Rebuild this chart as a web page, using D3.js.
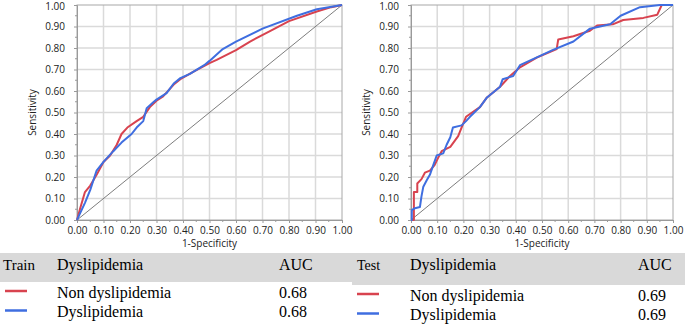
<!DOCTYPE html>
<html>
<head>
<meta charset="utf-8">
<script src="https://cdn.jsdelivr.net/npm/d3@7"></script>
<style>
  body { margin: 0; background: #fff; }
  svg { display: block; }
</style>
</head>
<body>
<div id="chart"></div>
<script>
// ROC points [1-specificity, sensitivity]
const trainNonDys = [[0,0],[0.011,0.05],[0.03,0.13],[0.05,0.16],[0.074,0.21],[0.1,0.27],[0.125,0.30],[0.15,0.35],[0.168,0.40],[0.19,0.43],[0.225,0.46],[0.25,0.48],[0.275,0.525],[0.30,0.555],[0.325,0.575],[0.365,0.63],[0.39,0.655],[0.44,0.69],[0.50,0.73],[0.527,0.745],[0.60,0.79],[0.653,0.83],[0.73,0.88],[0.80,0.925],[0.905,0.97],[0.96,0.99],[1,1]];
const trainDys = [[0,0],[0.011,0.03],[0.03,0.08],[0.05,0.14],[0.074,0.23],[0.1,0.27],[0.137,0.32],[0.168,0.36],[0.206,0.40],[0.225,0.43],[0.25,0.46],[0.263,0.52],[0.29,0.55],[0.30,0.56],[0.338,0.59],[0.365,0.635],[0.39,0.66],[0.426,0.68],[0.48,0.72],[0.50,0.74],[0.55,0.795],[0.60,0.83],[0.70,0.89],[0.83,0.95],[0.905,0.98],[1,1]];
const testNonDys = [[0,0],[0.011,0],[0.011,0.13],[0.024,0.13],[0.024,0.17],[0.04,0.19],[0.053,0.22],[0.072,0.23],[0.09,0.255],[0.104,0.29],[0.117,0.32],[0.15,0.34],[0.18,0.39],[0.193,0.43],[0.21,0.48],[0.263,0.525],[0.29,0.57],[0.34,0.62],[0.378,0.67],[0.416,0.71],[0.48,0.755],[0.556,0.795],[0.562,0.84],[0.62,0.855],[0.683,0.88],[0.71,0.905],[0.77,0.91],[0.81,0.93],[0.887,0.94],[0.94,0.955],[0.957,1],[1,1]];
const testDys = [[0,0],[0.003,0],[0.003,0.046],[0.015,0.055],[0.034,0.06],[0.04,0.11],[0.047,0.155],[0.06,0.185],[0.072,0.21],[0.085,0.255],[0.098,0.30],[0.123,0.31],[0.136,0.35],[0.15,0.385],[0.16,0.43],[0.193,0.44],[0.21,0.46],[0.225,0.48],[0.263,0.525],[0.29,0.57],[0.34,0.62],[0.35,0.655],[0.39,0.67],[0.416,0.72],[0.505,0.77],[0.54,0.79],[0.62,0.83],[0.683,0.89],[0.76,0.91],[0.80,0.95],[0.874,0.99],[0.95,1],[1,1]];

const groups = ["Non dyslipidemia", "Dyslipidemia"];
const trainAUC = ["0.68", "0.68"];
const testAUC = ["0.69", "0.69"];
const tickValues = d3.range(0, 1.0001, 0.1);
const minorValues = d3.range(0.05, 1, 0.1);

const colors = ["#d8434f", "#3f6ee0"];

const svg = d3.select("#chart").append("svg")
  .attr("width", 685).attr("height", 326);

function drawPanel(x0, x1, y0, y1, series) {
  const x = d3.scaleLinear().domain([0, 1]).range([x0, x1]);
  const y = d3.scaleLinear().domain([0, 1]).range([y0, y1]);
  const g = svg.append("g");

  // grid
  g.append("g").selectAll("line")
    .data(tickValues.slice(1, -1))
    .join("line")
      .attr("x1", d => x(d)).attr("x2", d => x(d))
      .attr("y1", y(0)).attr("y2", y(1))
      .attr("stroke", "#dadada").attr("stroke-width", 1.5);
  g.append("g").selectAll("line")
    .data(tickValues.slice(1, -1))
    .join("line")
      .attr("y1", d => y(d)).attr("y2", d => y(d))
      .attr("x1", x(0)).attr("x2", x(1))
      .attr("stroke", "#dadada").attr("stroke-width", 1.5);

  // frame
  g.append("rect")
    .attr("x", x(0)).attr("y", y(1))
    .attr("width", x(1) - x(0)).attr("height", y(0) - y(1))
    .attr("fill", "none").attr("stroke", "#a8a8a8").attr("stroke-width", 1);

  // axes
  const fmt = d3.format(".2f");
  const xAxis = g.append("g")
    .attr("transform", `translate(0,${y(0)})`)
    .call(d3.axisBottom(x).tickValues(tickValues).tickFormat(fmt).tickSize(3).tickPadding(4));
  const yAxis = g.append("g")
    .attr("transform", `translate(${x(0)},0)`)
    .call(d3.axisLeft(y).tickValues(tickValues).tickFormat(fmt).tickSize(3).tickPadding(9));
  [xAxis, yAxis].forEach(a => {
    a.select(".domain").attr("stroke", "#9a9a9a");
    a.selectAll(".tick line").attr("stroke", "#9a9a9a");
    a.selectAll("text")
      .attr("fill", "#222")
      .style("font-family", "'Open Sans', sans-serif")
      .style("font-size", "10px");
  });
  // keep the top label inside the picture
  yAxis.selectAll(".tick text").filter(d => d === 1).attr("dy", "0.45em");

  g.append("g").selectAll("line")
    .data(minorValues)
    .join("line")
      .attr("x1", d => x(d)).attr("x2", d => x(d))
      .attr("y1", y(0)).attr("y2", y(0) + 2)
      .attr("stroke", "#9a9a9a");
  g.append("g").selectAll("line")
    .data(minorValues)
    .join("line")
      .attr("y1", d => y(d)).attr("y2", d => y(d))
      .attr("x1", x(0)).attr("x2", x(0) - 2)
      .attr("stroke", "#9a9a9a");

  g.append("text")
    .attr("x", (x(0) + x(1)) / 2).attr("y", 247)
    .attr("text-anchor", "middle")
    .style("font-family", "'Open Sans', sans-serif").style("font-size", "10px")
    .attr("fill", "#222")
    .text("1-Specificity");

  g.append("text")
    .attr("transform", `translate(${x(0) - 41},${(y(0) + y(1)) / 2}) rotate(-90)`)
    .attr("text-anchor", "middle")
    .style("font-family", "'Open Sans', sans-serif").style("font-size", "10px")
    .attr("fill", "#222")
    .text("Sensitivity");

  // diagonal
  g.append("line")
    .attr("x1", x(0)).attr("y1", y(0)).attr("x2", x(1)).attr("y2", y(1))
    .attr("stroke", "#7d7d7d").attr("stroke-width", 1);

  const line = d3.line().x(d => x(d[0])).y(d => y(d[1]));
  series.forEach((s, i) => {
    g.append("path")
      .datum(s)
      .attr("fill", "none")
      .attr("stroke", colors[i])
      .attr("stroke-width", 2)
      .attr("stroke-linejoin", "round")
      .attr("d", line);
  });
}

drawPanel(77, 342, 220, 5, [trainNonDys, trainDys]);
drawPanel(411, 673, 220, 5, [testNonDys, testDys]);

// legend tables
function drawTable(opts) {
  const g = svg.append("g");
  g.append("rect")
    .attr("x", opts.bx).attr("y", opts.by)
    .attr("width", opts.bw).attr("height", opts.bh)
    .attr("fill", "#d9d9d9");
  const serif = "'Liberation Serif', 'Times New Roman', serif";
  g.append("text").attr("x", opts.c0).attr("y", opts.hy)
    .style("font-family", serif).style("font-size", opts.titleSize + "px")
    .text(opts.title);
  g.append("text").attr("x", opts.c1).attr("y", opts.hy)
    .style("font-family", serif).style("font-size", "16px")
    .text("Dyslipidemia");
  g.append("text").attr("x", opts.c2).attr("y", opts.hy)
    .style("font-family", serif).style("font-size", "16px")
    .text("AUC");
  groups.forEach((name, i) => {
    const ry = opts.rows[i];
    g.append("line")
      .attr("x1", opts.lx).attr("x2", opts.lx + 22)
      .attr("y1", ry - 6.5).attr("y2", ry - 6.5)
      .attr("stroke", colors[i]).attr("stroke-width", 2.5);
    g.append("text").attr("x", opts.c1).attr("y", ry)
      .style("font-family", serif).style("font-size", "16px")
      .text(name);
    g.append("text").attr("x", opts.c2).attr("y", ry)
      .style("font-family", serif).style("font-size", "16px")
      .text(opts.auc[i]);
  });
}

drawTable({bx: 0, by: 253, bw: 352, bh: 29, title: "Train", titleSize: 15,
  c0: 3, c1: 57, c2: 279, hy: 270, lx: 5, rows: [297.5, 317], auc: trainAUC});
drawTable({bx: 352, by: 253, bw: 333, bh: 32, title: "Test", titleSize: 14,
  c0: 357, c1: 410, c2: 638, hy: 269.5, lx: 357, rows: [300.5, 320], auc: testAUC});
</script>
</body>
</html>
